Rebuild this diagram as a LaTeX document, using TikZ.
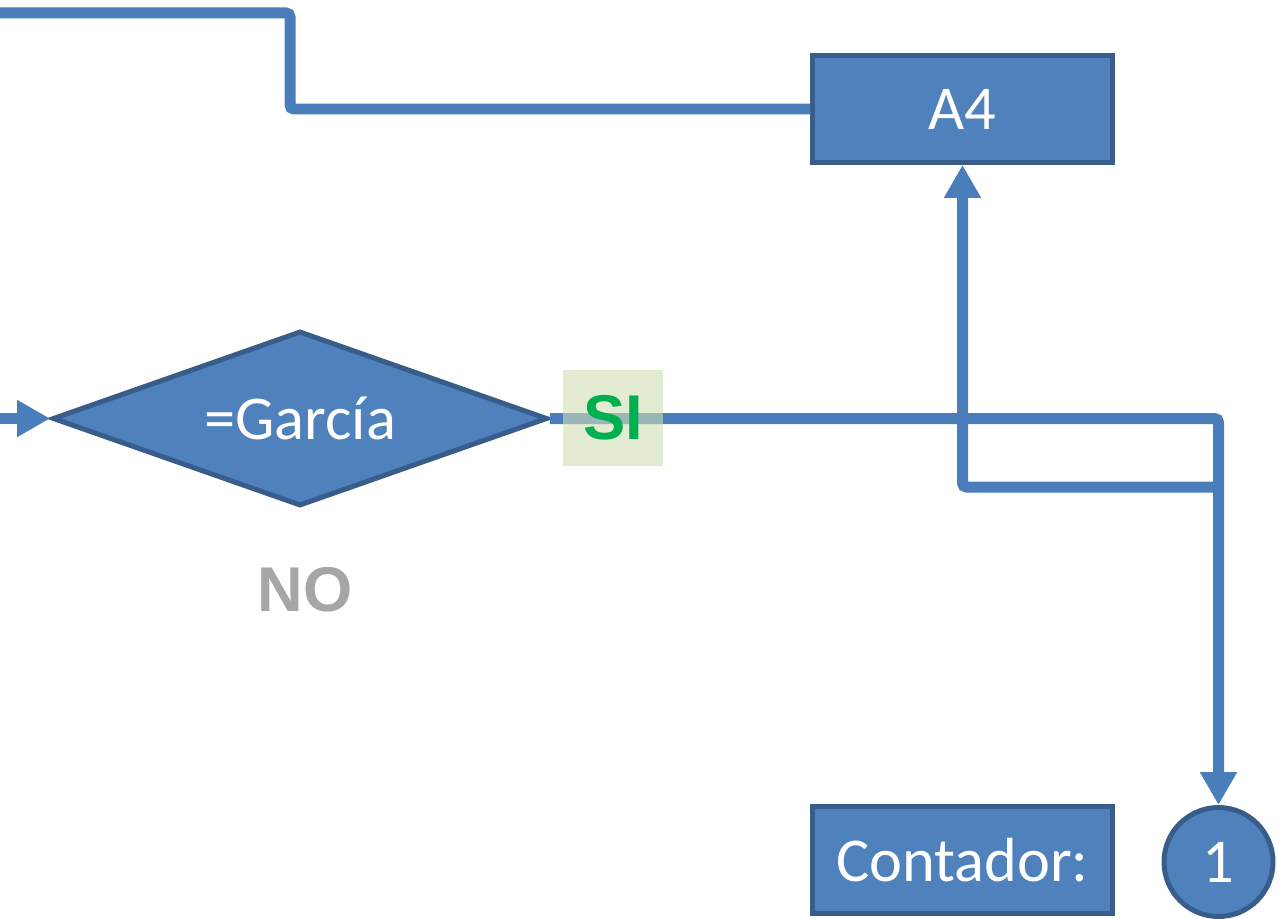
\documentclass[tikz,border=0pt]{standalone}
\usepackage{fontspec}
\setmainfont{Carlito}
\newfontfamily\labelfont{Liberation Sans}
\usepackage{tikz}
\usetikzlibrary{arrows.meta,shapes.geometric}

\definecolor{boxfill}{HTML}{4F81BD}
\definecolor{boxline}{HTML}{385D8A}
\definecolor{flowline}{HTML}{4A7EBB}
\definecolor{siback}{RGB}{208,222,182}
\definecolor{sigreen}{HTML}{00B050}
\definecolor{nogray}{HTML}{A6A6A6}

\begin{document}
\begin{tikzpicture}[x=0.02cm, y=-0.02cm,
    box/.style={rectangle, draw=boxline, fill=boxfill, line width=0.1cm, text=white,
      font=\fontsize{35.5}{40}\selectfont, minimum width=6.0cm, minimum height=2.14cm, inner sep=0pt},
    decision/.style={diamond, aspect=2.82, draw=boxline, fill=boxfill, line width=0.1cm, text=white,
      font=\fontsize{35.5}{40}\selectfont, minimum width=9.9cm, minimum height=3.5cm, inner sep=0pt},
    joint/.style={circle, draw=boxline, fill=boxfill, line width=0.1cm, text=white,
      font=\fontsize{35.5}{40}\selectfont, minimum size=2.18cm, inner sep=0pt},
    flow/.style={draw=flowline, line width=0.22cm, rounded corners=0.08cm},
    tip/.style={-{Triangle[width=0.7cm,length=0.66cm]}},
    answer/.style={font=\labelfont\bfseries\fontsize{36}{40}\selectfont}]

    \useasboundingbox (0,0) rectangle (1281,919);

    % Boxes and decision
    \node[box] (a4) at (962.5,109) {A4};
    \node[decision] (garcia) at (300,418.5) {=García};
    \node[box] (contador) at (962.5,860) {Contador:};
    \node[joint] (uno) at (1218.5,862) {1};

    % Free ends and bends
    \coordinate (inleft) at (-5,418.5);
    \coordinate (topleft) at (-5,13);
    \coordinate (bend) at (290,13);
    \coordinate (split) at (1218.5,487);

    % Flow lines
    \draw[flow] (a4.west) -| (bend) -- (topleft);
    \draw[flow, tip] (inleft) -- (garcia.west);
    \draw[flow, tip] (garcia.east) -| (uno.north);
    \draw[flow, tip] (split) -| (a4.south);

    % Answer labels
    \node[answer, fill=siback, fill opacity=0.6, text opacity=1, text=sigreen,
      minimum width=2cm, minimum height=1.92cm, inner sep=0pt] (si) at (613,418) {SI};
    \node[answer, text=nogray] (no) at (305,590) {NO};

\end{tikzpicture}
\end{document}
